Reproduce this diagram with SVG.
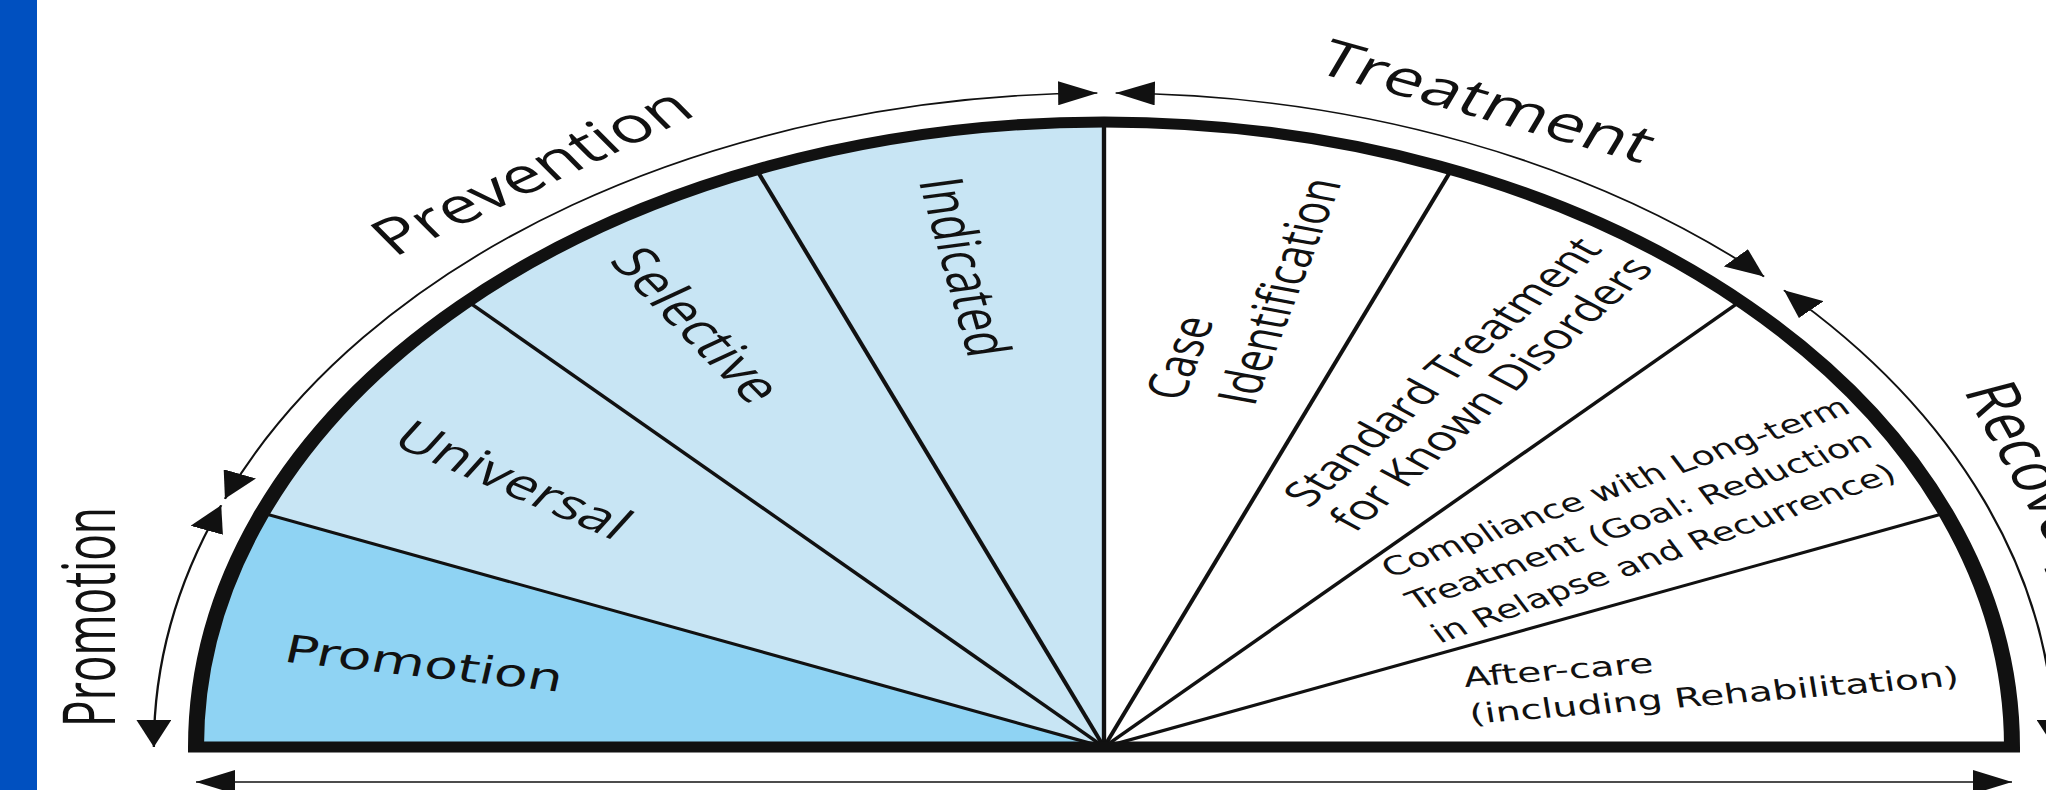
<svg xmlns="http://www.w3.org/2000/svg" width="2046" height="790" viewBox="0 0 2046 790">
<style>
.outer{font-family:"Open Sans","Liberation Sans",sans-serif;fill:#111}
.seg{font-family:"Open Sans","Liberation Sans",sans-serif;fill:#111}
.verd{font-family:"DejaVu Sans","Liberation Sans",sans-serif;fill:#111}
.spoke{stroke:#111;stroke-width:3;fill:none}
.arc{stroke:#111;stroke-width:1.6;fill:none;marker-start:url(#ah);marker-end:url(#ah)}
</style>
<defs>
<marker id="ah" viewBox="0 0 27 24" refX="27" refY="12" markerWidth="27" markerHeight="24" markerUnits="userSpaceOnUse" orient="auto-start-reverse">
<path d="M0,0 L27,12 L0,24 Z" fill="#111"/>
</marker>
</defs>
<rect x="0" y="0" width="2046" height="790" fill="#ffffff"/>
<rect x="0" y="0" width="37" height="790" fill="#0050c0"/>
<g transform="translate(1104,747) scale(1.4528,1)">
  <g id="slices">
    <path d="M0,0 L-625,0 A625,625 0 0 1 -579.49,-234.13 Z" fill="#8fd3f3"/>
    <path d="M0,0 L-579.49,-234.13 A625,625 0 0 1 0,-625 Z" fill="#c8e5f4"/>
  </g>
  <g id="spokes">
    <line class="spoke" x1="0" y1="0" x2="-579.49" y2="-234.13"/>
    <line class="spoke" x1="0" y1="0" x2="-438.07" y2="-445.78"/>
    <line class="spoke" x1="0" y1="0" x2="-239.18" y2="-577.43"/>
    <line class="spoke" x1="0" y1="0" x2="0" y2="-625"/>
    <line class="spoke" x1="0" y1="0" x2="239.18" y2="-577.43"/>
    <line class="spoke" x1="0" y1="0" x2="438.07" y2="-445.78"/>
    <line class="spoke" x1="0" y1="0" x2="579.49" y2="-234.13"/>
  </g>
  <path id="outline" d="M-625,0 A625,625 0 0 1 625,0 Z" fill="none" stroke="#111" stroke-width="11" stroke-linejoin="miter"/>
  <g id="connectors">
    <path class="arc" d="M-607.65,-241.82 A654,654 0 0 0 -654,0"/>
    <path class="arc" d="M-605.08,-248.17 A654,654 0 0 1 -4.57,-653.98"/>
    <path class="arc" d="M7.99,-653.95 A654,654 0 0 1 454.31,-470.45"/>
    <path class="arc" d="M468.06,-456.77 A654,654 0 0 1 654,0"/>
    <path class="arc" d="M-625,35 L625,35"/>
  </g>
  <g id="outer-labels">
    <text class="outer" style="font-size:50px" transform="translate(-681,-130) rotate(-90)" text-anchor="middle" textLength="220" lengthAdjust="spacingAndGlyphs">Promotion</text>
    <text class="outer" style="font-size:50px" transform="translate(-384.2,-561.1) rotate(-34.4)" text-anchor="middle">Prevention</text>
    <text class="outer" style="font-size:50px" transform="translate(256.9,-629.6) rotate(22.2)" text-anchor="middle">Treatment</text>
    <text class="outer" style="font-size:50px" transform="translate(629.1,-258) rotate(69)" text-anchor="middle">Recovery</text>
  </g>
  <g id="node-promotion">
    <text class="verd" style="font-size:38px" transform="translate(-468,-83.5) rotate(9)" text-anchor="middle" dy="0.35em">Promotion</text>
  </g>
  <g id="node-universal">
    <text class="seg" style="font-size:42px" transform="translate(-406.5,-267) rotate(32)" text-anchor="middle" dy="0.35em">Universal</text>
  </g>
  <g id="node-selective">
    <text class="seg" style="font-size:43px" transform="translate(-280,-422) rotate(56)" text-anchor="middle" dy="0.35em">Selective</text>
  </g>
  <g id="node-indicated">
    <text class="seg" style="font-size:42px" transform="translate(-96,-480) rotate(79)" text-anchor="middle" dy="0.35em">Indicated</text>
  </g>
  <g id="node-case">
    <text class="seg" style="font-size:38px" transform="translate(54,-345) rotate(-75)">
      <tspan x="0" y="0">Case</tspan>
      <tspan x="8" y="49">Identification</tspan>
    </text>
  </g>
  <g id="node-standard">
    <text class="seg" style="font-size:35px" transform="translate(141,-238) rotate(-52)">
      <tspan x="0" y="0">Standard Treatment</tspan>
      <tspan x="0" y="40">for Known Disorders</tspan>
    </text>
  </g>
  <g id="node-compliance">
    <text class="verd" style="font-size:26px" transform="translate(197,-169) rotate(-27.5)">
      <tspan x="0" y="0">Compliance with Long-term</tspan>
      <tspan x="0" y="37">Treatment (Goal: Reduction</tspan>
      <tspan x="0" y="74">in Relapse and Recurrence)</tspan>
    </text>
  </g>
  <g id="node-aftercare">
    <text class="verd" style="font-size:27px" transform="translate(248.5,-60) rotate(-6.5)">
      <tspan x="0" y="0">After-care</tspan>
      <tspan x="0" y="37">(including Rehabilitation)</tspan>
    </text>
  </g>
</g>
</svg>
